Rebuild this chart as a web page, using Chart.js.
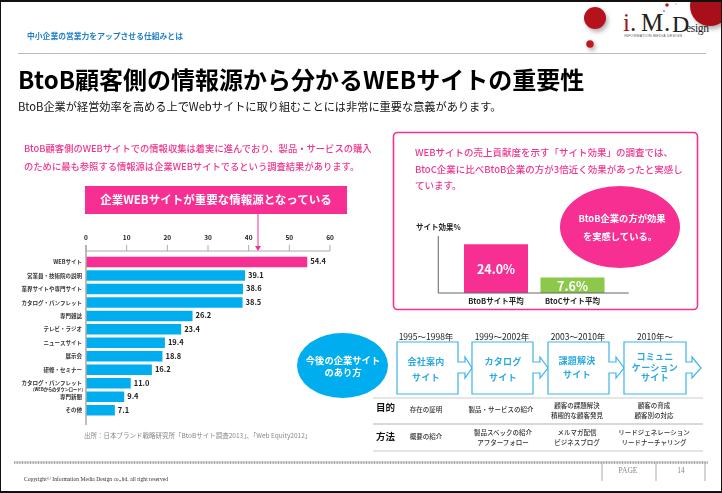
<!DOCTYPE html>
<html lang="ja">
<head>
<meta charset="utf-8">
<title>BtoB</title>
<script src="https://cdn.jsdelivr.net/npm/chart.js@4"></script>
<style>
html, body { margin: 0; padding: 0; background: #fff; }
#page { position: relative; width: 722px; height: 493px; overflow: hidden; box-sizing: border-box;
    border: 1px solid #111; border-width: 2px 1px 2px 1px; font-family: "Noto Sans CJK JP", sans-serif; }
/* everything below is placed in page coordinates, so undo the border offset */
#inner { position: absolute; left: -1px; top: -2px; width: 722px; height: 493px; }
.t { position: absolute; white-space: nowrap; transform: translateY(-50%); line-height: 1; }
.c { transform: translate(-50%, -50%); }
.pink { color: #f0358f; font-weight: 500; }
.white { color: #fff; font-weight: 700; }
.flow { color: #29abe2; font-weight: 700; font-size: 9px; letter-spacing: .3px; }
.year { color: #222; font-size: 8.5px; }
.cell { color: #333; font-size: 6.5px; font-weight: 500; }
.head { color: #111; font-size: 9.5px; font-weight: 700; }
.ball { filter: drop-shadow(2px 3px 2px rgba(0,0,0,.3)); }
canvas { position: absolute; }
svg { position: absolute; left: 0; top: 0; }
</style>
</head>
<body>
<div id="page"><div id="inner">

<svg width="722" height="493">
    <!-- logo -->
    <circle class="ball" cx="595" cy="18" r="11" fill="#b5121b"/>
    <circle class="ball" cx="590" cy="44" r="3.8" fill="#c4161c"/>
    <circle class="ball" cx="710" cy="6" r="20" fill="#a80f18"/>
    <circle cx="667" cy="5" r="1.8" fill="#c4161c"/>
    <circle cx="664" cy="11" r=".8" fill="#c4161c"/>
    <circle cx="676" cy="4" r=".5" fill="#c4161c"/>
    <g font-family="Liberation Serif" fill="#222">
        <text x="623" y="31" font-size="25" fill="#a3141c">i</text>
        <text x="630" y="31" font-size="25">.</text>
        <text x="641" y="31" font-size="25" textLength="22">M</text>
        <text x="664" y="31" font-size="25">.</text>
        <text x="672" y="32" font-size="24" textLength="17">D</text>
        <text x="686" y="32" font-size="11.5" textLength="23">esign</text>
    </g>
    <text x="624" y="36.5" font-family="Liberation Sans" font-size="3.5" fill="#555" textLength="58">INFORMATION MEDIA DESIGN</text>

    <line x1="18" y1="53.5" x2="706" y2="53.5" stroke="#bbb" stroke-width="1.2"/>

    <!-- left banner and arrow -->
    <rect x="85" y="186" width="262" height="28" fill="#f72f92"/>

    <!-- right panel -->
    <rect x="393.5" y="132.5" width="304" height="177" rx="4" fill="#fff" stroke="#f72f92" stroke-width="1.6"/>

    <!-- flow boxes -->
    <g fill="#fff" stroke="#3bb4ea" stroke-width="1.2">
        <path d="M397 342H458V362H465V357L472 368L465 378V373H458V394H397Z"/>
        <path d="M472 342H533V362H540V357L548 368L540 378V373H533V394H472Z"/>
        <path d="M548 342H609V362H616V357L624 368L616 378V373H609V394H548Z"/>
        <path d="M624 342H686V362H692V357L701 368L692 378V373H686V394H624Z"/>
    </g>
    <ellipse cx="342.5" cy="365.5" rx="45.5" ry="32.5" fill="#00aeef"/>

    <!-- table rules -->
    <line x1="373" y1="398" x2="703" y2="398" stroke="#ccc" stroke-width="1"/>
    <line x1="373" y1="424" x2="703" y2="424" stroke="#ccc" stroke-width="1.6"/>
    <line x1="373" y1="451" x2="703" y2="451" stroke="#ccc" stroke-width="1"/>

    <!-- footer -->
    <line x1="14" y1="462.5" x2="708" y2="462.5" stroke="#999" stroke-width="2.4" stroke-dasharray="1 .6"/>
    <g stroke="#aaa" stroke-width="1">
        <line x1="602" y1="463" x2="602" y2="481"/>
        <line x1="656" y1="463" x2="656" y2="481"/>
        <line x1="705" y1="463" x2="705" y2="481"/>
    </g>
</svg>

<canvas id="mainChart" width="350" height="205" style="left:10px;top:225px"></canvas>
<canvas id="effectChart" width="210" height="80" style="left:430px;top:230px"></canvas>

<svg width="722" height="493" style="pointer-events:none">
    <ellipse cx="620" cy="227" rx="60" ry="41" fill="#f72f92"/>
    <line x1="258" y1="214" x2="258" y2="247" stroke="#f72f92" stroke-width="1"/>
    <path d="M255 246H261L258 251Z" fill="#f72f92"/>
</svg>

<div class="t" style="left:27px;top:36px;font-size:7.8px;font-weight:700;color:#1f7fc9">中小企業の営業力をアップさせる仕組みとは</div>
<div class="t" style="left:18px;top:79px;font-size:24px;font-weight:700;color:#000">BtoB顧客側の情報源から分かるWEBサイトの重要性</div>
<div class="t" style="left:18px;top:107px;font-size:11.2px;color:#111">BtoB企業が経営効率を高める上でWebサイトに取り組むことには非常に重要な意義があります。</div>

<div class="t pink" style="left:24px;top:149px;font-size:9.3px">BtoB顧客側のWEBサイトでの情報収集は着実に進んでおり、製品・サービスの購入</div>
<div class="t pink" style="left:24px;top:167px;font-size:9.3px">のために最も参照する情報源は企業WEBサイトでるという調査結果があります。</div>
<div class="t c white" style="left:216px;top:200px;font-size:11.5px">企業WEBサイトが重要な情報源となっている</div>
<div class="t" style="left:84px;top:435px;font-size:6.5px;color:#888">出所：日本ブランド戦略研究所「BtoBサイト調査2013」、「Web Equity2012」</div>

<div class="t pink" style="left:415px;top:153px;font-size:9.5px">WEBサイトの売上貢献度を示す「サイト効果」の調査では、</div>
<div class="t pink" style="left:415px;top:170px;font-size:9.5px">BtoC企業に比べBtoB企業の方が3倍近く効果があったと実感し</div>
<div class="t pink" style="left:415px;top:186px;font-size:9.5px">ています。</div>
<div class="t c white" style="left:622px;top:219px;font-size:9.3px">BtoB企業の方が効果</div>
<div class="t c white" style="left:620px;top:237px;font-size:9.3px">を実感している。</div>
<div class="t" style="left:416px;top:227px;font-size:7.5px;font-weight:700;color:#222">サイト効果%</div>

<div class="t c white" style="left:343px;top:361px;font-size:9.3px">今後の企業サイト</div>
<div class="t c white" style="left:343px;top:373px;font-size:9.3px">のあり方</div>

<div class="t c year" style="left:426px;top:336px">1995～1998年</div>
<div class="t c year" style="left:502px;top:336px">1999～2002年</div>
<div class="t c year" style="left:578px;top:336px">2003～2010年</div>
<div class="t c year" style="left:655px;top:336px">2010年～</div>

<div class="t c flow" style="left:426px;top:361px">会社案内</div>
<div class="t c flow" style="left:426px;top:377px">サイト</div>
<div class="t c flow" style="left:503px;top:361px">カタログ</div>
<div class="t c flow" style="left:503px;top:377px">サイト</div>
<div class="t c flow" style="left:577px;top:360px">課題解決</div>
<div class="t c flow" style="left:577px;top:374px">サイト</div>
<div class="t c flow" style="left:655px;top:356px">コミュニ</div>
<div class="t c flow" style="left:655px;top:367px">ケーション</div>
<div class="t c flow" style="left:655px;top:377px">サイト</div>

<div class="t head" style="left:376px;top:408px">目的</div>
<div class="t head" style="left:376px;top:437px">方法</div>

<div class="t c cell" style="left:426px;top:409px">存在の証明</div>
<div class="t c cell" style="left:501px;top:409px">製品・サービスの紹介</div>
<div class="t c cell" style="left:577px;top:405px">顧客の課題解決</div>
<div class="t c cell" style="left:577px;top:415px">積極的な顧客発見</div>
<div class="t c cell" style="left:654px;top:405px">顧客の育成</div>
<div class="t c cell" style="left:654px;top:415px">顧客別の対応</div>

<div class="t c cell" style="left:426px;top:436px">概要の紹介</div>
<div class="t c cell" style="left:503px;top:432px">製品スペックの紹介</div>
<div class="t c cell" style="left:503px;top:442px">アフターフォロー</div>
<div class="t c cell" style="left:577px;top:432px">メルマガ配信</div>
<div class="t c cell" style="left:577px;top:442px">ビジネスブログ</div>
<div class="t c cell" style="left:654px;top:432px">リードジェネレーション</div>
<div class="t c cell" style="left:654px;top:442px">リードナーチャリング</div>

<div class="t" style="left:24px;top:480px;font-family:'Liberation Serif';font-size:5.6px;color:#333">Copyright© Information Media Design co.,ltd. all right reserved</div>
<div class="t c" style="left:628px;top:471px;font-family:'Liberation Serif';font-size:7.5px;color:#888">PAGE</div>
<div class="t c" style="left:681px;top:471px;font-family:'Liberation Serif';font-size:7.5px;color:#888">14</div>

</div></div>

<script>
var sourceCategories = ["WEBサイト", "営業員・技術院の説明", "業界サイトや専門サイト", "カタログ・パンフレット", "専門雑誌",
    "テレビ・ラジオ", "ニュースサイト", "展示会", "研修・セミナー", "カタログ・パンフレット", "専門新聞", "その他"];
var sourceSubLabels = ["", "", "", "", "", "", "", "", "", "(WEBからのダウンロード)", "", ""];
var sourceValues = [54.4, 39.1, 38.6, 38.5, 26.2, 23.4, 19.4, 18.8, 16.2, 11.0, 9.4, 7.1];
var sourceTicks = [0, 10, 20, 30, 40, 50, 60];

var effectCategories = ["BtoBサイト平均", "BtoCサイト平均"];
var effectValues = [24.0, 7.6];

var PINK = "#f72f92";
var BLUE = "#00aeef";
var GREEN = "#8cc84b";
var FONT = '"Noto Sans CJK JP", sans-serif';

Chart.defaults.font.family = FONT;
Chart.defaults.animation = false;
Chart.defaults.responsive = false;

// axis is drawn by hand since it sits a little above the bars
var mainDecor = {
    id: "mainDecor",
    afterDatasetsDraw: function (chart) {
        var ctx = chart.ctx, x = chart.scales.x, y = chart.scales.y, area = chart.chartArea;
        var axisY = area.top - 4.3;
        ctx.save();
        ctx.strokeStyle = "#aaa";
        ctx.lineWidth = 1;
        ctx.beginPath();
        ctx.moveTo(area.left, axisY);
        ctx.lineTo(x.getPixelForValue(60), axisY);
        sourceTicks.forEach(function (t) {
            ctx.moveTo(x.getPixelForValue(t), axisY);
            ctx.lineTo(x.getPixelForValue(t), axisY - 6);
        });
        ctx.stroke();
        ctx.lineWidth = 1.5;
        ctx.beginPath();
        ctx.moveTo(area.left, axisY - 6);
        ctx.lineTo(area.left, area.bottom + 8);
        ctx.stroke();

        ctx.fillStyle = "#222";
        ctx.textBaseline = "middle";
        chart.getDatasetMeta(0).data.forEach(function (bar, i) {
            ctx.font = "bold 7.5px " + FONT;
            ctx.textAlign = "left";
            ctx.fillText(sourceValues[i].toFixed(1), bar.x + 3, bar.y - 0.5);
            if (sourceSubLabels[i]) {
                ctx.font = "bold 4.2px " + FONT;
                ctx.textAlign = "right";
                ctx.fillText(sourceSubLabels[i], area.left - 3, bar.y + 6);
            }
        });
        ctx.restore();
    }
};

var effectDecor = {
    id: "effectDecor",
    afterDatasetsDraw: function (chart) {
        var ctx = chart.ctx, area = chart.chartArea;
        ctx.save();
        ctx.strokeStyle = "#666";
        ctx.lineWidth = 1;
        ctx.beginPath();
        ctx.moveTo(area.left - 19.5, area.top);
        ctx.lineTo(area.left - 19.5, area.bottom);
        ctx.lineTo(area.right + 18, area.bottom);
        ctx.stroke();
        ctx.fillStyle = "#fff";
        ctx.font = "bold 12.5px " + FONT;
        ctx.textAlign = "center";
        ctx.textBaseline = "middle";
        chart.getDatasetMeta(0).data.forEach(function (bar, i) {
            ctx.fillText(effectValues[i].toFixed(1) + "%", bar.x, (bar.y + bar.base) / 2 + 0.5);
        });
        ctx.restore();
    }
};

new Chart(document.getElementById("mainChart"), {
    type: "bar",
    data: {
        labels: sourceCategories,
        datasets: [{
            data: sourceValues,
            backgroundColor: function (c) { return c.dataIndex === 0 ? PINK : BLUE; },
            barPercentage: 0.78,
            categoryPercentage: 1
        }]
    },
    options: {
        indexAxis: "y",
        layout: { padding: { right: 30, bottom: 13.1 } },
        plugins: { legend: { display: false }, tooltip: { enabled: false } },
        scales: {
            x: {
                position: "top",
                min: 0,
                max: 60,
                afterFit: function (s) { s.height = 30.3; },
                afterBuildTicks: function (s) { s.ticks = sourceTicks.map(function (v) { return { value: v }; }); },
                grid: { display: false, drawTicks: false },
                border: { display: false },
                ticks: { padding: 14, maxRotation: 0, color: "#222", font: { size: 6.5, weight: "bold" } }
            },
            y: {
                afterFit: function (s) { s.width = 76; },
                grid: { display: false, drawTicks: false },
                border: { display: false },
                ticks: { padding: 4, autoSkip: false, color: "#333", font: { size: 5.5, weight: "bold" } }
            }
        }
    },
    plugins: [mainDecor]
});

new Chart(document.getElementById("effectChart"), {
    type: "bar",
    data: {
        labels: effectCategories,
        datasets: [{
            data: effectValues,
            backgroundColor: [PINK, GREEN],
            barPercentage: 0.837,
            categoryPercentage: 1
        }]
    },
    options: {
        layout: { padding: { left: 27.75, right: 29.25, top: 6 } },
        plugins: { legend: { display: false }, tooltip: { enabled: false } },
        scales: {
            y: { display: false, min: 0, max: 28 },
            x: {
                afterFit: function (s) { s.height = 17; },
                grid: { display: false, drawTicks: false },
                border: { display: false },
                ticks: { padding: 4, maxRotation: 0, color: "#222", font: { size: 7.5, weight: "bold" } }
            }
        }
    },
    plugins: [effectDecor]
});
</script>
</body>
</html>
